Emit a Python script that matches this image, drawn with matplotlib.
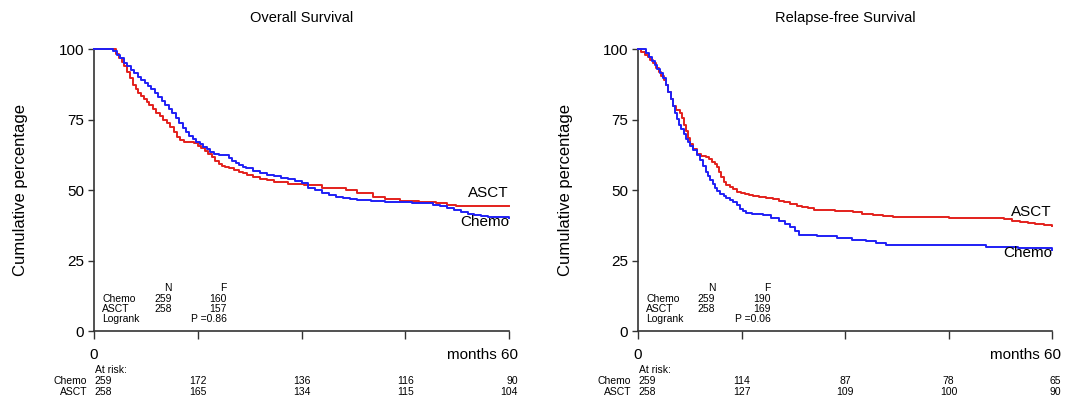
import matplotlib
matplotlib.use('Agg')
import matplotlib.pyplot as plt

plt.rcParams['font.family'] = ['Liberation Sans', 'DejaVu Sans']

# Kaplan-Meier curves (months, % surviving)
os_chemo_t = [0, 2.3, 2.8, 3.3, 3.8, 4.3, 4.8, 5.3, 5.8, 6.3, 6.8, 7.3, 7.8, 8.3, 8.8,
              9.3, 9.8, 10.3, 10.8, 11.3, 11.8, 12.3, 12.8, 13.3, 13.8, 14.3, 14.8,
              15.3, 15.8, 16.3, 16.8, 17.3, 18, 19, 19.5, 20, 20.5, 21, 21.5, 22, 23,
              24, 25, 26, 27, 28, 29, 30, 31, 32, 33, 34, 35, 36, 37, 38, 40, 42, 44,
              46, 48, 49, 50, 51, 52, 53, 54, 55, 56, 57, 58, 60]
os_chemo_s = [100, 100, 99.5, 98, 96.8, 95.3, 94, 92.8, 91.5, 90.3, 89, 88, 87, 85.8,
              84.6, 83.2, 81.8, 80.3, 79, 77.5, 75.5, 73.8, 72.2, 70.8, 69.3, 68.2,
              67.3, 66.4, 65.4, 64.5, 63.5, 63, 62.6, 62.4, 61.5, 60.5, 59.7, 59, 58.4,
              57.8, 57, 56, 55.5, 55, 54.5, 54, 53.3, 52.5, 51, 50.2, 49.2, 48.5, 47.8,
              47.3, 46.8, 46.5, 46.3, 46.0, 45.8, 45.6, 45.5, 45, 44.3, 43.6, 43, 42.4,
              41.7, 41.3, 41, 40.7, 40.5, 40.3]
os_asct_t = [0, 2.8, 3.2, 3.6, 4, 4.4, 4.8, 5.2, 5.6, 6, 6.4, 6.8, 7.2, 7.6, 8, 8.5, 9,
             9.5, 10, 10.5, 11, 11.5, 12, 12.5, 13, 13.7, 14.4, 15, 15.5, 16, 16.5, 17,
             17.5, 18, 18.5, 19, 19.5, 20.3, 21, 21.6, 22.1, 23, 24, 25, 26, 28, 30.3,
             33, 36.5, 38, 40.4, 42, 44.2, 47, 49.5, 51, 52.4, 55, 60]
os_asct_s = [100, 100, 98.5, 97, 95.5, 94, 92, 89.8, 87.5, 86, 84.6, 83.5, 82.5, 81.5,
             80.4, 79, 77.6, 76.3, 75, 73.8, 72.6, 70.8, 69, 68, 67.3, 67, 66.7, 65.8,
             65, 64, 63, 61.8, 60.5, 59.4, 58.7, 58.2, 57.8, 57.1, 56.5, 56, 55.4, 54.8,
             54.2, 53.6, 53, 52.4, 51.8, 51, 50, 49.2, 47.6, 46.8, 46.1, 45.8, 45.5, 45,
             44.6, 44.5, 44.3]

rfs_chemo_t = [0, 0.8, 1.2, 1.6, 2, 2.4, 2.8, 3.2, 3.6, 4, 4.4, 4.8, 5.1, 5.4, 5.7, 6,
               6.3, 6.6, 6.9, 7.2, 7.6, 8, 8.5, 9, 9.4, 9.8, 10.1, 10.4, 10.8, 11.1,
               11.5, 11.9, 12.4, 12.8, 13.3, 13.8, 14.3, 14.8, 15.2, 15.7, 16.5, 18.1,
               19.3, 20.5, 21.3, 22, 22.7, 23.4, 26, 28.8, 31, 33.1, 34.5, 36, 48.6,
               50.5, 55, 60]
rfs_chemo_s = [100, 100, 98.8, 97.3, 96, 94.6, 93.2, 91.5, 89.8, 87.5, 85, 82.3, 79.8,
               77.5, 75.3, 73.2, 71.7, 70, 68.3, 67, 65.7, 64.3, 62.5, 60.7, 58.8, 56.6,
               55, 53.6, 52.2, 51, 49.8, 48.8, 48, 47.2, 46.5, 45.8, 44.7, 43.5, 42.6,
               41.9, 41.7, 41.4, 40.3, 39.3, 38, 36.9, 35.5, 34.3, 34, 33.3, 32.6, 32.1,
               31.3, 30.7, 30.7, 29.8, 29.5, 29.0]
rfs_asct_t = [0, 0.5, 1, 1.4, 1.8, 2.2, 2.6, 3, 3.4, 3.7, 4.1, 4.4, 4.8, 5.1, 5.5, 6.1,
              6.4, 6.7, 7, 7.3, 7.6, 8, 8.5, 9.2, 9.9, 10.3, 10.7, 11.1, 11.4, 11.7, 12,
              12.4, 12.8, 13.3, 13.8, 14.3, 14.9, 15.5, 16.1, 16.7, 17.5, 18.5, 19.5,
              20.5, 21.2, 22, 23, 23.8, 24.7, 25.5, 26.4, 28.5, 31.2, 32.5, 34, 35.5,
              37, 45, 53, 54.2, 55.4, 56.5, 57.5, 58.8, 60]
rfs_asct_s = [100, 99, 98, 97.2, 96.2, 95, 93.5, 92, 90.6, 89.3, 87.3, 85, 82.4, 79.8,
              78.5, 77.4, 75.5, 73.3, 71, 68.5, 66.3, 64.5, 62.9, 62.3, 61.7, 61, 60,
              59.2, 58.3, 56.5, 54.8, 53, 52, 51.2, 50.4, 49.6, 49, 48.6, 48.3, 48.0,
              47.6, 47.2, 46.8, 46.4, 45.8, 45.3, 44.4, 44, 43.6, 43.2, 42.9, 42.6, 42.3,
              41.8, 41.3, 40.9, 40.5, 40.2, 39.9, 39.3, 38.7, 38.4, 38.1, 37.8, 37.5]

groups = ['Chemo', 'ASCT']
os_n = [259, 258]
os_f = [160, 157]
os_p = '0.86'
rfs_n = [259, 258]
rfs_f = [190, 169]
rfs_p = '0.06'

risk_times = [0, 15, 30, 45, 60]
os_risk_chemo = [259, 172, 136, 116, 90]
os_risk_asct = [258, 165, 134, 115, 104]
rfs_risk_chemo = [259, 114, 87, 78, 65]
rfs_risk_asct = [258, 127, 109, 100, 90]

red = '#e3201c'
blue = '#1f1ff5'

fig = plt.figure(figsize=(10.66, 3.99), dpi=100)
ax1 = fig.add_axes([0.0882, 0.1692, 0.3893, 0.7072])
ax2 = fig.add_axes([0.5985, 0.1692, 0.3884, 0.7072])

panels = [
    (ax1, 'Overall Survival', os_chemo_t, os_chemo_s, os_asct_t, os_asct_s,
     os_n, os_f, os_p, os_risk_chemo, os_risk_asct, 49.1, 38.9),
    (ax2, 'Relapse-free Survival', rfs_chemo_t, rfs_chemo_s, rfs_asct_t, rfs_asct_s,
     rfs_n, rfs_f, rfs_p, rfs_risk_chemo, rfs_risk_asct, 42.5, 27.9),
]

small = 7.5
for (ax, title, ct, cs, at, as_, n, f, p, rc, ra, y_asct, y_chemo) in panels:
    ax.step(at, as_, where='post', color=red, lw=1.4, clip_on=False, zorder=3)
    ax.step(ct, cs, where='post', color=blue, lw=1.4, clip_on=False, zorder=3)

    ax.set_xlim(0, 60)
    ax.set_ylim(0, 100)
    for s in ['top', 'right']:
        ax.spines[s].set_visible(False)
    for s in ['left', 'bottom']:
        ax.spines[s].set_color('#333333')
        ax.spines[s].set_linewidth(1.2)

    ax.set_yticks([0, 25, 50, 75, 100])
    ax.tick_params(axis='y', length=4, width=1.0, pad=3, labelsize=11, color='#333333')
    ax.set_xticks(risk_times)
    ax.set_xticklabels([])
    ax.tick_params(axis='x', length=6, width=1.0, color='#333333')

    ax.set_title(title, fontsize=10.5, pad=20)
    ax.set_ylabel('Cumulative percentage', fontsize=12)
    ax.yaxis.set_label_coords(-0.158, 0.5)

    # x labels: only the ends
    ax.annotate('0', xy=(0, 0), xytext=(0, -17), textcoords='offset points',
                ha='center', va='center', fontsize=11, annotation_clip=False)
    ax.annotate('months 60', xy=(60, 0), xytext=(6.3, -17), textcoords='offset points',
                ha='right', va='center', fontsize=11, annotation_clip=False)

    # curve labels
    ax.text(60, y_asct, 'ASCT', ha='right', va='center', fontsize=11)
    ax.text(60, y_chemo, 'Chemo', ha='right', va='center', fontsize=11)

    # N / F table
    ax.text(11.2, 15.4, 'N', ha='right', va='center', fontsize=small)
    ax.text(19.2, 15.4, 'F', ha='right', va='center', fontsize=small)
    for g, nv, fv, yy in zip(groups, n, f, [11.4, 7.9]):
        ax.text(1.2, yy, g, ha='left', va='center', fontsize=small)
        ax.text(11.2, yy, str(nv), ha='right', va='center', fontsize=small)
        ax.text(19.2, yy, str(fv), ha='right', va='center', fontsize=small)
    ax.text(1.2, 4.3, 'Logrank', ha='left', va='center', fontsize=small)
    ax.text(19.2, 4.3, 'P =' + p, ha='right', va='center', fontsize=small)

    # numbers at risk
    ax.text(0.1, -13.7, 'At risk:', ha='left', va='center', fontsize=small, clip_on=False)
    for label, vals, yy in [('Chemo', rc, -17.4), ('ASCT', ra, -21.3)]:
        ax.text(-1.0, yy, label, ha='right', va='center', fontsize=small, clip_on=False)
        for i, (t, v) in enumerate(zip(risk_times, vals)):
            if i == 0:
                ax.text(t + 0.1, yy, str(v), ha='left', va='center', fontsize=small)
            elif i == len(vals) - 1:
                ax.text(t + 1.3, yy, str(v), ha='right', va='center', fontsize=small)
            else:
                ax.text(t, yy, str(v), ha='center', va='center', fontsize=small)

fig.savefig('out.png', dpi=100)
